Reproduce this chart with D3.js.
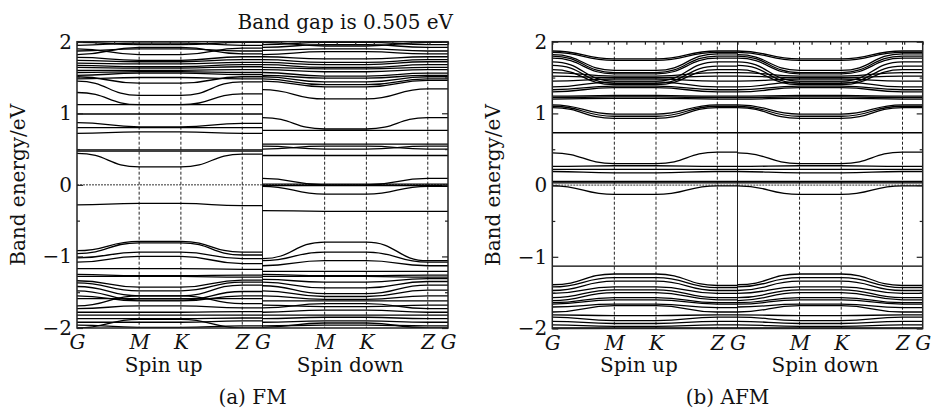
<!DOCTYPE html>
<html>
<head>
<meta charset="utf-8">
<script src="https://cdn.jsdelivr.net/npm/d3@7"></script>
<style>
body { margin: 0; background: #fff; }
text { font-family: "DejaVu Serif", serif; fill: #111; }
</style>
</head>
<body>
<div id="chart"></div>
<script>
// high-symmetry points along one spin channel (fraction of the path)
var kNodes = [0, 0.335, 0.56, 0.891, 1];
var kLabels = ["G", "M", "K", "Z", "G", "M", "K", "Z", "G"];
var yTicks = [-2, -1, 0, 1, 2];
var yMinor = [-1.5, -0.5, 0.5, 1.5];

// FM, spin up: energy (eV) at G, at M (=K), at Z (=G)
var fmUpG = [1.99,1.95,1.90,1.87,1.82,1.78,1.74,1.70,1.67,1.64,
  1.60,1.57,1.53,1.51,1.48,1.45,1.29,1.12,0.99,0.87,
  0.80,0.72,0.49,0.47,0.44,-0.28,-0.92,-0.96,-1.02,-1.08,
  -1.17,-1.25,-1.28,-1.34,-1.37,-1.42,-1.48,-1.55,-1.59,-1.69,
  -1.73,-1.78,-1.82,-1.87,-1.92,-1.96,-2.00];
var fmUpM = [1.96,1.98,1.82,1.90,1.92,1.74,1.72,1.69,1.65,1.63,
  1.60,1.58,1.56,1.42,1.50,1.25,1.12,1.12,0.99,0.81,
  0.80,0.74,0.49,0.47,0.25,-0.26,-0.79,-0.81,-0.94,-1.00,
  -1.17,-1.27,-1.28,-1.43,-1.48,-1.55,-1.61,-1.62,-1.59,-1.55,
  -1.69,-1.78,-1.82,-1.87,-1.92,-1.99,-1.88];
var fmUpZ = [1.99,1.95,1.91,1.87,1.83,1.79,1.75,1.71,1.68,1.65,
  1.61,1.57,1.54,1.51,1.48,1.44,1.27,1.12,0.99,0.86,
  0.80,0.72,0.49,0.47,0.43,-0.29,-0.94,-0.98,-1.03,-1.10,
  -1.18,-1.26,-1.29,-1.33,-1.36,-1.40,-1.49,-1.55,-1.59,-1.66,
  -1.72,-1.77,-1.82,-1.86,-1.90,-1.97,-2.00];

// FM, spin down
var fmDnG = [1.99,1.96,1.92,1.88,1.82,1.79,1.75,1.71,1.68,1.64,
  1.61,1.57,1.53,1.51,1.48,1.45,1.33,0.94,0.76,0.57,
  0.54,0.50,0.41,0.09,0.01,-0.01,-0.02,-0.36,-1.03,-1.06,
  -1.13,-1.21,-1.25,-1.28,-1.32,-1.36,-1.41,-1.48,-1.55,-1.62,
  -1.68,-1.72,-1.78,-1.82,-1.87,-1.92,-1.97,-1.99];
var fmDnM = [1.94,1.99,1.96,1.90,1.86,1.76,1.71,1.68,1.64,1.62,
  1.58,1.52,1.49,1.44,1.40,1.37,1.20,0.78,0.76,0.57,
  0.50,0.54,0.41,0.00,0.01,-0.01,-0.13,-0.37,-0.80,-0.94,
  -1.06,-1.21,-1.27,-1.28,-1.36,-1.44,-1.52,-1.56,-1.60,-1.62,
  -1.70,-1.66,-1.75,-1.82,-1.85,-1.90,-1.96,-1.93];
var fmDnZ = [1.99,1.96,1.92,1.87,1.83,1.79,1.75,1.72,1.68,1.64,
  1.61,1.56,1.53,1.51,1.48,1.46,1.34,0.94,0.76,0.57,
  0.54,0.50,0.41,0.09,0.01,-0.01,-0.02,-0.37,-1.06,-1.08,
  -1.13,-1.21,-1.26,-1.29,-1.31,-1.35,-1.40,-1.47,-1.55,-1.62,
  -1.68,-1.73,-1.78,-1.82,-1.87,-1.92,-1.97,-2.00];

// AFM (spin up and spin down are the same)
var afmG = [1.87,1.85,1.82,1.80,1.77,1.72,1.67,1.61,1.57,1.52,
  1.45,1.37,1.33,1.30,1.24,1.22,1.20,1.12,1.10,1.08,
  0.73,0.45,0.26,0.22,0.19,0.05,0.03,-0.01,-1.13,-1.39,
  -1.42,-1.47,-1.51,-1.57,-1.61,-1.64,-1.66,-1.70,-1.77,-1.81,
  -1.84,-1.90,-1.95,-1.99];
var afmM = [1.76,1.74,1.60,1.57,1.55,1.45,1.42,1.40,1.52,1.50,
  1.48,1.44,1.38,1.36,1.25,1.23,1.21,0.99,0.96,0.93,
  0.73,0.30,0.27,0.22,0.17,0.05,0.03,-0.13,-1.13,-1.24,
  -1.29,-1.34,-1.42,-1.46,-1.50,-1.57,-1.60,-1.66,-1.68,-1.82,
  -1.89,-1.93,-1.97,-1.99];
var afmZ = [1.87,1.85,1.83,1.80,1.77,1.72,1.66,1.61,1.57,1.52,
  1.45,1.37,1.33,1.30,1.24,1.22,1.20,1.12,1.10,1.08,
  0.73,0.46,0.26,0.22,0.19,0.05,0.03,-0.01,-1.13,-1.40,
  -1.43,-1.47,-1.51,-1.57,-1.60,-1.64,-1.66,-1.71,-1.77,-1.81,
  -1.84,-1.90,-1.95,-1.99];

function bands(g, m, z) {
  return g.map(function(v, i) { return [v, m[i], m[i], z[i], z[i]]; });
}

var panels = [
  {id: "a", left: 77, right: 448, top: 41.7, bottom: 328, caption: "(a) FM",
   up: bands(fmUpG, fmUpM, fmUpZ), down: bands(fmDnG, fmDnM, fmDnZ)},
  {id: "b", left: 552.3, right: 922.7, top: 41.7, bottom: 328.5, caption: "(b) AFM",
   up: bands(afmG, afmM, afmZ), down: bands(afmG, afmM, afmZ)}
];

var svg = d3.select("#chart").append("svg")
    .attr("width", 931)
    .attr("height", 409);

var kPos = [];
[0, 1].forEach(function(s) {
  kNodes.forEach(function(k, j) { if (!(s == 1 && j == 0)) kPos.push(k + s); });
});

panels.forEach(function(p) {
  var x = d3.scaleLinear().domain([0, 2]).range([p.left, p.right]);
  var y = d3.scaleLinear().domain([-2, 2]).range([p.bottom, p.top]);

  svg.append("clipPath").attr("id", "clip-" + p.id)
    .append("rect")
    .attr("x", p.left).attr("y", p.top)
    .attr("width", p.right - p.left).attr("height", p.bottom - p.top);

  var g = svg.append("g");
  var plot = g.append("g").attr("clip-path", "url(#clip-" + p.id + ")");

  // zero line
  plot.append("line")
    .attr("x1", p.left).attr("x2", p.right)
    .attr("y1", y(0)).attr("y2", y(0))
    .attr("stroke", "#333").attr("stroke-width", 1)
    .attr("stroke-dasharray", "2,1");

  // high-symmetry lines
  plot.selectAll(".kline")
    .data(kPos.filter(function(k) { return k > 0 && k < 2; }))
    .enter().append("line")
    .attr("x1", function(d) { return x(d); })
    .attr("x2", function(d) { return x(d); })
    .attr("y1", p.top).attr("y2", p.bottom)
    .attr("stroke", "#222")
    .attr("stroke-width", 1)
    .attr("stroke-dasharray", function(d) { return d == 1 ? null : "3,2"; });

  var line = d3.line()
    .x(function(d) { return x(d[0]); })
    .y(function(d) { return y(d[1]); })
    .curve(d3.curveBumpX);

  [p.up, p.down].forEach(function(set, s) {
    plot.selectAll(".band" + s)
      .data(set)
      .enter().append("path")
      .attr("d", function(b) {
        return line(b.map(function(e, j) { return [kNodes[j] + s, e]; }));
      })
      .attr("fill", "none")
      .attr("stroke", "#000")
      .attr("stroke-width", 1.3);
  });

  // frame
  g.append("rect")
    .attr("x", p.left).attr("y", p.top)
    .attr("width", p.right - p.left).attr("height", p.bottom - p.top)
    .attr("fill", "none").attr("stroke", "#222").attr("stroke-width", 1.5);

  // y axes
  var yl = g.append("g").attr("transform", "translate(" + p.left + ",0)")
    .call(d3.axisLeft(y).tickValues(yTicks).tickSizeInner(-6).tickSizeOuter(0)
      .tickPadding(5).tickFormat(d3.format("d")));
  yl.select(".domain").remove();
  yl.selectAll("text").style("font-size", "20px").style("font-family", "DejaVu Serif");
  var ylm = g.append("g").attr("transform", "translate(" + p.left + ",0)")
    .call(d3.axisLeft(y).tickValues(yMinor).tickSize(-3).tickFormat(""));
  ylm.select(".domain").remove();
  var yr = g.append("g").attr("transform", "translate(" + p.right + ",0)")
    .call(d3.axisRight(y).tickValues(yTicks).tickSize(-6).tickFormat(""));
  yr.select(".domain").remove();
  var yrm = g.append("g").attr("transform", "translate(" + p.right + ",0)")
    .call(d3.axisRight(y).tickValues(yMinor).tickSize(-3).tickFormat(""));
  yrm.select(".domain").remove();

  // small k ticks along the top edge
  var xt = g.append("g").attr("transform", "translate(0," + p.top + ")")
    .call(d3.axisTop(x).ticks(18).tickSize(-3).tickFormat(""));
  xt.select(".domain").remove();
  g.selectAll(".tick line").attr("stroke", "#222").attr("stroke-width", 1.2);

  // x labels
  var xa = g.append("g").attr("transform", "translate(0," + p.bottom + ")")
    .call(d3.axisBottom(x).tickValues(kPos).tickSize(0).tickPadding(7)
      .tickFormat(function(d, i) { return kLabels[i]; }));
  xa.select(".domain").remove();
  xa.selectAll("text").style("font-size", "20px").style("font-style", "italic")
    .style("font-family", "DejaVu Serif");

  g.append("text")
    .attr("transform", "translate(" + (p.left - 59) + "," + ((p.top + p.bottom) / 2) + ") rotate(-90)")
    .attr("text-anchor", "middle")
    .attr("dy", "0.35em")
    .style("font-size", "20px")
    .text("Band energy/eV");

  g.append("text")
    .attr("x", x(0.5) - 6).attr("y", 372)
    .attr("text-anchor", "middle").style("font-size", "20px")
    .text("Spin up");
  g.append("text")
    .attr("x", x(1.5) - 5).attr("y", 372)
    .attr("text-anchor", "middle").style("font-size", "20px")
    .text("Spin down");
  g.append("text")
    .attr("x", (p.left + p.right) / 2 - 10).attr("y", 404)
    .attr("text-anchor", "middle").style("font-size", "20px")
    .text(p.caption);
});

svg.append("text")
  .attr("x", 453).attr("y", 29)
  .attr("text-anchor", "end").style("font-size", "20px")
  .text("Band gap is 0.505 eV");
</script>
</body>
</html>
